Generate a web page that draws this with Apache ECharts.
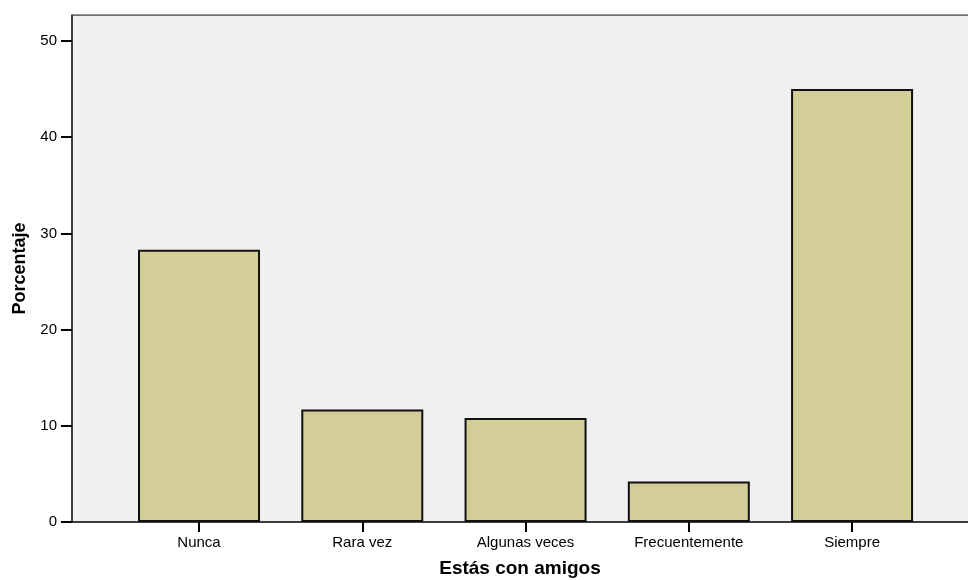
<!DOCTYPE html>
<html>
<head>
<meta charset="utf-8">
<script src="https://cdn.jsdelivr.net/npm/echarts@6/dist/echarts.min.js"></script>
<style>html,body{margin:0;padding:0;background:#fff;}#c{width:968px;height:580px;}</style>
</head>
<body>
<div id="c"></div>
<script>
const categories = ['Nunca', 'Rara vez', 'Algunas veces', 'Frecuentemente', 'Siempre'];
const values = [28.3, 11.7, 10.8, 4.2, 45.0];
const yTicks = [0, 10, 20, 30, 40, 50];
const xTitle = 'Estás con amigos';
const yTitle = 'Porcentaje';

const chart = echarts.init(document.getElementById('c'), null, {renderer: 'canvas'});
const idx = categories.map((c, i) => i);
chart.setOption({
  animation: false,
  backgroundColor: '#ffffff',
  grid: {
    left: 72, right: 0, top: 15, bottom: 58,
    outerBoundsMode: 'none', containLabel: false,
    show: true, backgroundColor: '#f0f0f0', borderWidth: 0
  },
  xAxis: {
    type: 'value',
    min: -0.778, max: 4.71,
    splitLine: {show: false},
    axisLine: {show: true, onZero: false, lineStyle: {color: '#000', width: 1.5}},
    axisTick: {show: true, customValues: idx, length: 10, lineStyle: {color: '#000', width: 2}},
    axisLabel: {
      customValues: idx,
      formatter: v => categories[Math.round(v)] || '',
      color: '#000', fontFamily: 'Liberation Sans, Arial', fontSize: 15, margin: 13
    },
    name: xTitle, nameLocation: 'middle', nameGap: 37,
    nameTextStyle: {color: '#000', fontFamily: 'Liberation Sans, Arial', fontSize: 19, fontWeight: 'bold'}
  },
  yAxis: {
    type: 'value',
    min: 0, max: 52.7,
    splitLine: {show: false},
    axisLine: {show: true, onZero: false, lineStyle: {color: '#000', width: 1.5}},
    axisTick: {show: true, customValues: yTicks, length: 11, lineStyle: {color: '#000', width: 2}},
    axisLabel: {
      customValues: yTicks,
      color: '#000', fontFamily: 'Liberation Sans, Arial', fontSize: 15, margin: 15
    },
    name: yTitle, nameLocation: 'middle', nameGap: 39,
    nameTextStyle: {color: '#000', fontFamily: 'Liberation Sans, Arial', fontSize: 18, fontWeight: 'bold'}
  },
  series: [{
    type: 'bar',
    data: values.map((v, i) => [i, v]),
    barWidth: 122,
    itemStyle: {color: '#d3ce97', borderColor: '#111', borderWidth: 2},
    silent: true
  }, {
    type: 'line',
    data: [[-0.778, 52.7], [4.71, 52.7]],
    symbol: 'none',
    lineStyle: {color: '#444', width: 1.5},
    silent: true
  }]
});
</script>
</body>
</html>
